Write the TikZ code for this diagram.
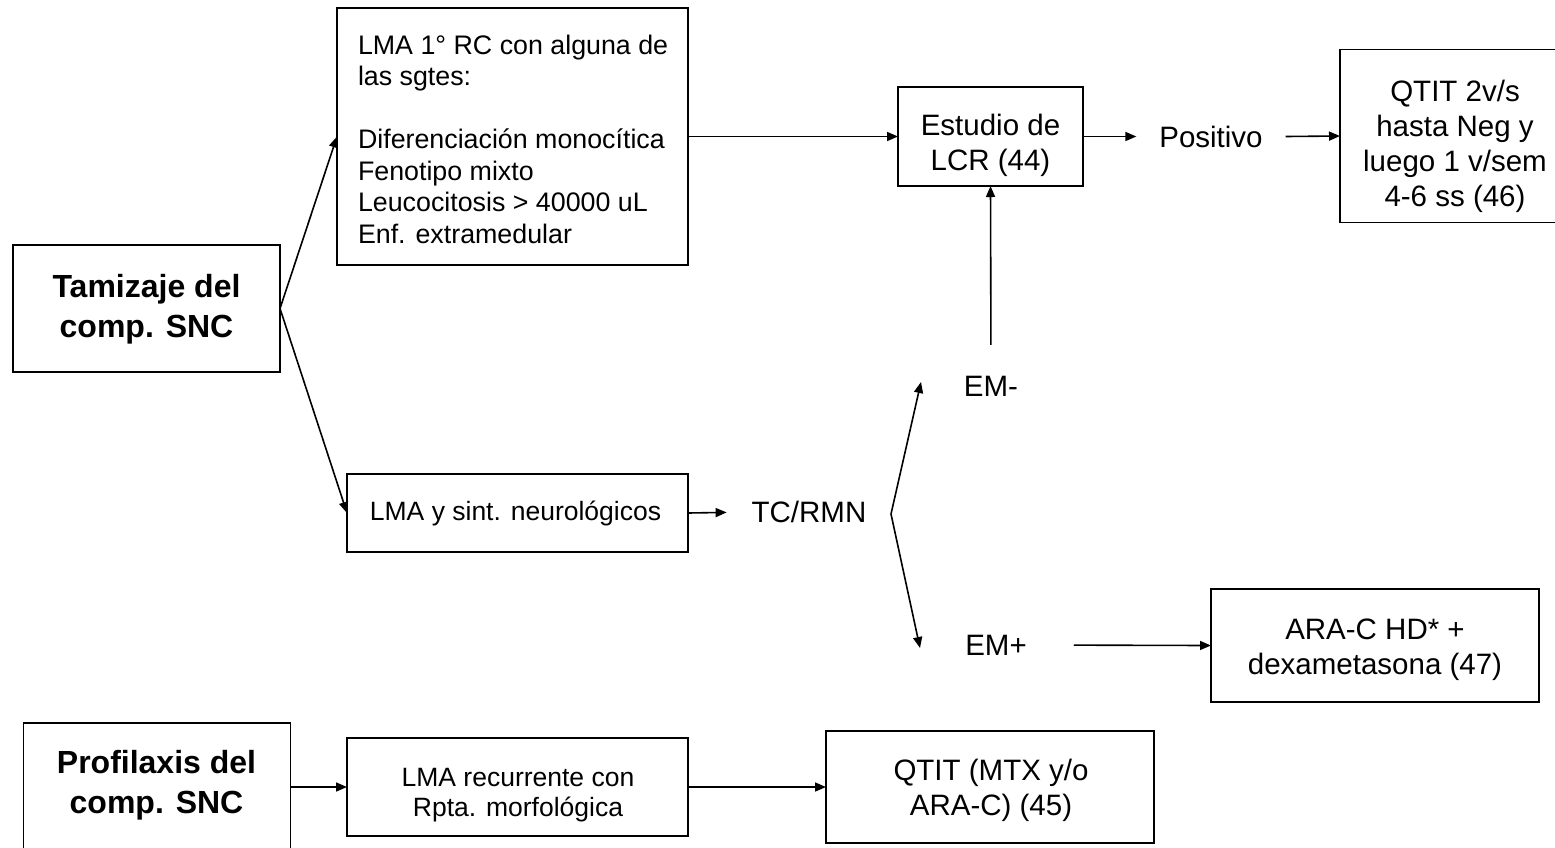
\documentclass[tikz,border=0pt]{standalone}
\usepackage{fontspec}
\setmainfont{Liberation Sans}
\usetikzlibrary{arrows.meta}
\tikzset{
  box/.style={draw=black, line width=1.7pt, inner sep=0pt, outer sep=0pt},
  txt/.style={inner sep=0pt, outer sep=0pt, text=black, align=center},
  big/.style={font=\fontsize{29.5}{35}\selectfont},
  mid/.style={font=\fontsize{26.5}{29.5}\selectfont},
  bld/.style={font=\fontsize{32}{40}\selectfont\bfseries},
  arr/.style={draw=black, line width=1.6pt, -{Triangle[length=11pt,width=9pt]}}
}
\begin{document}
\begin{tikzpicture}[x=1pt,y=-1pt]
\useasboundingbox (0,0) rectangle (1555,847);
\clip (0,0) rectangle (1555,847);
% boxes
\node[box, minimum width=267, minimum height=127] (tam) at (146.5,308.5) {};
\node[box, minimum width=351, minimum height=257] (lma1) at (512.5,136.5) {};
\node[box, minimum width=185, minimum height=99] (est) at (990.5,136.5) {};
\node[box, minimum width=230, minimum height=173] (qt2) at (1455,136) {};
\node[box, minimum width=341, minimum height=78] (lms) at (517.5,513) {};
\node[box, minimum width=328, minimum height=113] (ara) at (1375,645.5) {};
\node[box, minimum width=267, minimum height=129] (pro) at (157,787.5) {};
\node[box, minimum width=341, minimum height=98] (lmr) at (517.5,787) {};
\node[box, minimum width=328, minimum height=112] (qtm) at (990,787) {};
% texts
\node[txt, bld] (tamT) at (146.5,309.5) {Tamizaje del\\comp. SNC};
\node[txt, font=\fontsize{26.8}{31.5}\selectfont, align=left, anchor=west] (lma1T) at (358,139)
  {LMA 1° RC con alguna de\\las sgtes:\\[31.5pt]Diferenciación monocítica\\Fenotipo mixto\\Leucocitosis > 40000 uL\\Enf. extramedular};
\node[txt, big] (estT) at (990.5,145) {Estudio de\\LCR (44)};
\node[txt, big, inner xsep=23pt] (pos) at (1211,136.5) {Positivo};
\node[txt, big] (qt2T) at (1455,146) {QTIT 2v/s\\hasta Neg y\\luego 1 v/sem\\4-6 ss (46)};
\node[txt, big] (emm) at (991,386) {EM-};
\node[txt, mid] (lmsT) at (515.5,513.5) {LMA y sint. neurológicos};
\node[txt, big] (tcr) at (809,512) {TC/RMN};
\node[txt, big] (emp) at (996,645) {EM+};
\node[txt, big] (araT) at (1375,650) {ARA-C HD* +\\dexametasona (47)};
\node[txt, bld] (proT) at (156.5,785.5) {Profilaxis del\\comp. SNC};
\node[txt, mid] (lmrT) at (518,795) {LMA recurrente con\\Rpta. morfológica};
\node[txt, big] (qtmT) at (991,790) {QTIT (MTX y/o\\ARA-C) (45)};
% free ends
\coordinate (fork) at (891,514);
\coordinate (emmIn) at (921,382);
\coordinate (empIn) at (920,648);
% connectors
\draw[arr] (tam.east) -- (lma1.west);
\draw[arr] (tam.east) -- (lms.west);
\draw[arr] (lma1.east) -- (est.west);
\draw[arr] (est.east) -- (pos.west);
\draw[arr] (pos.east) -- (qt2.west);
\draw[arr, shorten <=31pt] (emm.north) -- (est.south);
\draw[arr, shorten >=25pt] (lms.east) -- (tcr.west);
\draw[arr] (fork) -- (emmIn);
\draw[arr] (fork) -- (empIn);
\draw[arr, shorten <=47pt] (emp.east) -- (ara.west);
\draw[arr] (pro.east |- lmr.west) -- (lmr.west);
\draw[arr] (lmr.east) -- (qtm.west);
\end{tikzpicture}
\end{document}
